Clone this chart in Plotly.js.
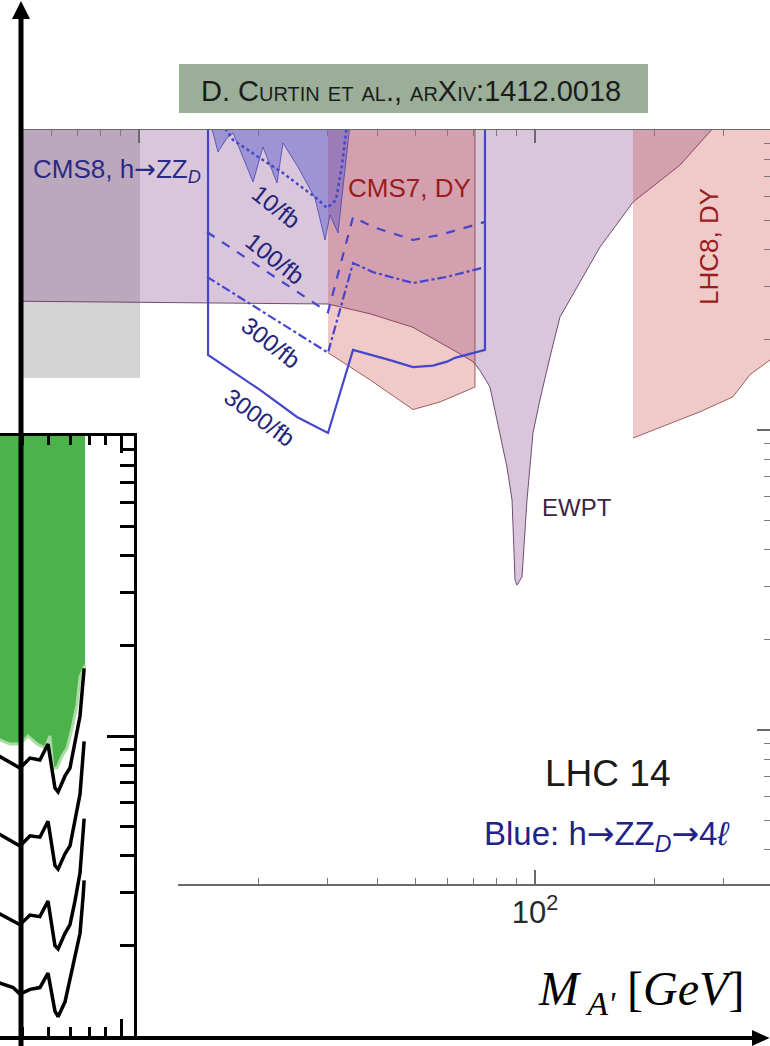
<!DOCTYPE html>
<html>
<head>
<meta charset="utf-8">
<script src="https://cdn.plot.ly/plotly-3.0.1.min.js"></script>
<style>html,body{margin:0;padding:0;background:#fff;}#chart{width:770px;height:1046px;}</style>
</head>
<body>
<div id="chart"></div>
<script>
// ---------- Main plot: dark photon mass M_A' [GeV] (log) vs kinetic mixing epsilon (log) ----------
const xTickMajor = [10, 100];
const xTickMinor = [5, 6, 7, 8, 9, 20, 30, 40, 50, 60, 70, 80, 90, 200, 300];
const bottomTickVals = [100];
const bottomTickText = ['10<sup>2</sup>'];
const yTickMajor = [0.1, 0.01, 0.001];
const yTickMinor = [0.02,0.03,0.04,0.05,0.06,0.07,0.08,0.09,0.002,0.003,0.004,0.005,0.006,0.007,0.008,0.009,0.0004,0.0005,0.0006,0.0007,0.0008,0.0009];

// grey band (left)
const grayM   = [4.5, 10.06, 10.06, 4.5];
const grayEps = [0.105, 0.105, 0.0149, 0.0149];

// EWPT exclusion (lavender)
const ewptM   = [4.5, 288.2, 232.4, 176.8, 145.9, 115.6, 109.1, 102.9, 98.84, 95.45, 92.73, 90.06, 89.04, 87.50, 84.95, 79.25, 76.96, 72.62, 69.72, 62.08, 49.19, 38.31, 30.01, 4.5];
const ewptEps = [0.105, 0.105, 0.0764, 0.0575, 0.0407, 0.0238, 0.0175, 0.0126, 0.00977, 0.00584, 0.00324, 0.00304, 0.00316, 0.00584, 0.00753, 0.0117, 0.0139, 0.0158, 0.0169, 0.0185, 0.0220, 0.0244, 0.0263, 0.0269];

// CMS7 Drell-Yan
const cms7M   = [30.01, 70.54, 70.54, 57.56, 49.19, 38.31, 30.01];
const cms7Eps = [0.105, 0.105, 0.0139, 0.0124, 0.0117, 0.0147, 0.0181];

// LHC8 Drell-Yan
const lhc8M   = [176.8, 420, 420, 392.1, 349.1, 316.2, 261.1, 176.8];
const lhc8Eps = [0.105, 0.105, 0.0171, 0.0171, 0.0153, 0.0129, 0.0115, 0.0094];

// CMS8 h -> Z Z_D
const cms8M   = [15.11, 15.38, 15.83, 16.68, 17.28, 19.41, 20.56, 22.31, 23.10, 25.20, 27.82, 29.49, 30.36, 31.81, 34.11];
const cms8Eps = [0.105, 0.0977, 0.0845, 0.0940, 0.0977, 0.0671, 0.0878, 0.0666, 0.0905, 0.0753, 0.0593, 0.0430, 0.0521, 0.0454, 0.105];

// LHC14 projections h -> Z Z_D -> 4l
const proj3000M   = [14.94, 14.94, 20.21, 25.06, 30.01, 34.71, 43.03, 49.19, 55.26, 59.95, 62.81, 74.76, 74.76];
const proj3000Eps = [0.105, 0.0178, 0.0136, 0.01105, 0.00977, 0.0185, 0.0171, 0.0162, 0.0164, 0.0169, 0.0174, 0.0185, 0.105];
const proj300M    = [14.85, 30.01, 34.71, 38.99, 49.19, 59.95, 74.76];
const proj300Eps  = [0.0324, 0.0181, 0.0360, 0.0336, 0.0309, 0.0324, 0.0349];
const proj100M    = [14.85, 30.01, 34.71, 38.99, 49.19, 57.56, 74.76];
const proj100Eps  = [0.0457, 0.0247, 0.0513, 0.0475, 0.0430, 0.0447, 0.0494];
const proj10M     = [16.20, 17.28, 20.21, 23.10, 25.50, 27.82, 29.84, 31.44, 32.56, 33.52];
const proj10Eps   = [0.105, 0.0926, 0.0806, 0.0719, 0.0651, 0.0598, 0.0550, 0.0584, 0.0764, 0.105];

// ---------- Inset (green exclusion + black projection curves) ----------
const insetXMajor = [10];
const insetXMinor = [5, 6, 7, 8, 9];
const insetYMajor = [1e-4, 1e-3, 1e-2];
const insetYMinor = [2e-4,3e-4,4e-4,5e-4,6e-4,7e-4,8e-4,9e-4,2e-3,3e-3,4e-3,5e-3,6e-3,7e-3,8e-3,9e-3];

const greenEdgeM = [4.0, 4.28, 4.59, 4.92, 5.21, 5.55, 5.87, 6.07, 6.20, 6.38, 6.61, 6.85, 7.09, 7.34, 7.50, 7.77];
const greenEdgeV = [9.70e-4, 9.70e-4, 9.40e-4, 9.40e-4, 1.0e-3, 9.40e-4, 9.12e-4, 1.0e-3, 7.82e-4, 7.82e-4, 8.58e-4, 9.12e-4, 1.063e-3, 1.269e-3, 1.573e-3, 1.725e-3];
const greenTopM = [7.77, 4.0];
const greenTopV = [0.011, 0.011];

const curveM  = [4.0, 4.69, 4.92, 5.28, 5.66, 5.99, 6.29, 6.43, 6.75, 6.99, 7.24, 7.50, 7.66, 7.72];
const curve1V = [8.9e-4, 8.06e-4, 7.82e-4, 8.44e-4, 8.32e-4, 9.40e-4, 6.71e-4, 6.51e-4, 7.36e-4, 7.82e-4, 9.40e-4, 1.166e-3, 1.525e-3, 1.68e-3];
const curve2V = [4.9e-4, 4.45e-4, 4.3e-4, 4.65e-4, 4.6e-4, 5.2e-4, 3.7e-4, 3.6e-4, 4.05e-4, 4.3e-4, 5.2e-4, 6.4e-4, 8.6e-4, 9.6e-4];
const curve3V = [2.65e-4, 2.42e-4, 2.35e-4, 2.53e-4, 2.5e-4, 2.82e-4, 2.0e-4, 1.95e-4, 2.2e-4, 2.35e-4, 2.82e-4, 3.5e-4, 4.7e-4, 5.3e-4];
const curve4V = [1.54e-4, 1.45e-4, 1.38e-4, 1.43e-4, 1.45e-4, 1.62e-4, 1.21e-4, 1.16e-4, 1.3e-4, 1.54e-4, 1.8e-4, 2.2e-4, 2.9e-4, 3.3e-4];

// ---------- helpers for page placement ----------
const W = 770, H = 1046;
const pxX = v => v / W;
const pxY = v => 1 - v / H;

const SANS = 'Liberation Sans, Arial, sans-serif';
const SERIF = 'Liberation Serif, Times New Roman, serif';
const ARROW = '<span style="font-family:DejaVu Sans">→</span>';

function region(x, y, fill, line, ax) {
  return {type: 'scatter', mode: 'lines', x: x, y: y, fill: 'toself', fillcolor: fill,
    line: {color: line, width: 1}, hoverinfo: 'skip', showlegend: false,
    xaxis: ax ? ax[0] : 'x', yaxis: ax ? ax[1] : 'y'};
}
function curve(x, y, color, width, dash, ax) {
  return {type: 'scatter', mode: 'lines', x: x, y: y, line: {color: color, width: width, dash: dash || 'solid'},
    hoverinfo: 'skip', showlegend: false, xaxis: ax ? ax[0] : 'x', yaxis: ax ? ax[1] : 'y'};
}

const BLUE = '#4646cc';
const data = [
  region(grayM, grayEps, '#d4d4d4', 'rgba(0,0,0,0)'),
  region(ewptM, ewptEps, 'rgba(128,65,135,0.30)', 'rgba(90,50,90,0.85)'),
  region(cms7M, cms7Eps, 'rgba(200,60,60,0.28)', 'rgba(140,60,60,0.8)'),
  region(lhc8M, lhc8Eps, 'rgba(200,60,60,0.28)', 'rgba(140,60,60,0.8)'),
  region(cms8M, cms8Eps, 'rgba(70,70,200,0.40)', 'rgba(70,70,180,0.8)'),
  curve(proj3000M, proj3000Eps, BLUE, 2.2, 'solid'),
  curve(proj300M, proj300Eps, BLUE, 2.2, 'dashdot'),
  curve(proj100M, proj100Eps, BLUE, 2.2, 'dash'),
  curve(proj10M, proj10Eps, BLUE, 2.5, 'dot'),
  {type: 'scatter', mode: 'lines', x: [], y: [], xaxis: 'x3', yaxis: 'y', hoverinfo: 'skip', showlegend: false},
  // inset
  region(greenEdgeM.concat(greenTopM), greenEdgeV.concat(greenTopV), '#4cb24c', 'rgba(0,0,0,0)', ['x2', 'y2']),
  curve(greenEdgeM, greenEdgeV, '#a9dba3', 3, 'solid', ['x2', 'y2']),
  curve(curveM, curve1V, '#000', 3.5, 'solid', ['x2', 'y2']),
  curve(curveM, curve2V, '#000', 3.5, 'solid', ['x2', 'y2']),
  curve(curveM, curve3V, '#000', 3.5, 'solid', ['x2', 'y2']),
  curve(curveM, curve4V, '#000', 3.5, 'solid', ['x2', 'y2'])
];

const mainDomX = [pxX(22), 1];
const mainDomY = [pxY(884), pxY(130)];
const logL = 2 + (22 - 535) / 396, logR = 2 + (770 - 535) / 396, logB = 2 + (178 - 535) / 396;
const insetL = 1 + (0 - 121) / 328, insetR = 1 + (134 - 121) / 328;

const layout = {
  width: W, height: H, autosize: false,
  margin: {l: 0, r: 0, t: 0, b: 0, pad: 0},
  paper_bgcolor: '#ffffff', plot_bgcolor: 'rgba(0,0,0,0)',
  showlegend: false,
  xaxis: {type: 'log', domain: mainDomX, range: [logL, logR], anchor: 'y', side: 'top',
    showgrid: false, zeroline: false, showline: true, linecolor: '#6a6a6a', linewidth: 1.5,
    ticks: 'inside', tickmode: 'array', tickvals: xTickMajor, ticklen: 13, tickwidth: 1.2, tickcolor: '#6a6a6a',
    showticklabels: false,
    minor: {tickmode: 'array', tickvals: xTickMinor, ticks: 'inside', ticklen: 6, tickwidth: 1, tickcolor: '#7a7a7a'}},
  xaxis3: {type: 'log', domain: [pxX(178), 1], range: [logB, logR], anchor: 'y', side: 'bottom',
    showgrid: false, zeroline: false, showline: true, linecolor: '#6a6a6a', linewidth: 1.5,
    ticks: 'inside', tickmode: 'array', tickvals: bottomTickVals, ticktext: bottomTickText,
    ticklen: 14, tickwidth: 1.2, tickcolor: '#6a6a6a',
    tickfont: {family: SANS, size: 31, color: '#2a2a2a'},
    minor: {tickmode: 'array', tickvals: xTickMinor, ticks: 'inside', ticklen: 6, tickwidth: 1, tickcolor: '#7a7a7a'}},
  yaxis: {type: 'log', domain: mainDomY, range: [-1 - 754 / 300, -1], anchor: 'x', side: 'right',
    showgrid: false, zeroline: false, showline: false,
    ticks: 'inside', tickmode: 'array', tickvals: yTickMajor, ticklen: 13, tickwidth: 1.2, tickcolor: '#6a6a6a',
    showticklabels: false,
    minor: {tickmode: 'array', tickvals: yTickMinor, ticks: 'inside', ticklen: 6, tickwidth: 1, tickcolor: '#7a7a7a'}},
  xaxis2: {type: 'log', domain: [0, pxX(134)], range: [insetL, insetR], anchor: 'y2',
    showgrid: false, zeroline: false, showline: true, linecolor: '#000', linewidth: 3, mirror: 'ticks',
    ticks: 'inside', tickmode: 'array', tickvals: insetXMajor, ticklen: 17, tickwidth: 3, tickcolor: '#000',
    showticklabels: false,
    minor: {tickmode: 'array', tickvals: insetXMinor, ticks: 'inside', ticklen: 9, tickwidth: 3, tickcolor: '#000'}},
  yaxis2: {type: 'log', domain: [pxY(1036), pxY(436)], range: [-4, -2], anchor: 'x2', side: 'right',
    showgrid: false, zeroline: false, showline: true, linecolor: '#000', linewidth: 3,
    ticks: 'inside', tickmode: 'array', tickvals: insetYMajor, ticklen: 27, tickwidth: 3, tickcolor: '#000',
    showticklabels: false,
    minor: {tickmode: 'array', tickvals: insetYMinor, ticks: 'inside', ticklen: 14, tickwidth: 3, tickcolor: '#000'}},
  shapes: [
    {type: 'rect', xref: 'paper', yref: 'paper', x0: pxX(179), x1: pxX(648), y0: pxY(113), y1: pxY(64),
      fillcolor: '#9aae98', line: {width: 0}, layer: 'below'},
    {type: 'line', xref: 'paper', yref: 'paper', x0: pxX(21), x1: pxX(21), y0: pxY(1046), y1: pxY(16),
      line: {color: '#000', width: 5}, layer: 'above'},
    {type: 'path', xref: 'paper', yref: 'paper', layer: 'above', fillcolor: '#000', line: {width: 0},
      path: 'M ' + pxX(21) + ' ' + pxY(1) + ' L ' + pxX(12) + ' ' + pxY(19) + ' L ' + pxX(30) + ' ' + pxY(19) + ' Z'},
    {type: 'line', xref: 'paper', yref: 'paper', x0: 0, x1: pxX(756), y0: pxY(1038), y1: pxY(1038),
      line: {color: '#000', width: 4}, layer: 'above'},
    {type: 'path', xref: 'paper', yref: 'paper', layer: 'above', fillcolor: '#000', line: {width: 0},
      path: 'M ' + pxX(769.5) + ' ' + pxY(1038) + ' L ' + pxX(752) + ' ' + pxY(1030) + ' L ' + pxX(752) + ' ' + pxY(1046) + ' Z'}
  ],
  annotations: []
};

function label(text, x, y, size, color, extra) {
  const a = Object.assign({text: text, xref: 'paper', yref: 'paper', x: pxX(x), y: pxY(y),
    xanchor: 'center', yanchor: 'middle', showarrow: false,
    font: {family: SANS, size: size, color: color}}, extra || {});
  layout.annotations.push(a);
}

label('D. Curtin et al., arXiv:1412.0018', 411, 91, 29, '#1c1c1c',
  {font: {family: SANS, size: 29, color: '#1c1c1c', variant: 'small-caps'}});
label('CMS8, h' + ARROW + 'ZZ<sub><i>D</i></sub>', 117, 170, 26, '#2a2a85');
label('CMS7, DY', 409, 188, 26, '#9a1c1c');
label('LHC8, DY', 709, 247, 26, '#9a1c1c', {textangle: -90});
label('10/fb', 276, 206, 24, '#23237a', {textangle: 38});
label('100/fb', 275, 258, 24, '#23237a', {textangle: 38});
label('300/fb', 271, 342, 24, '#23237a', {textangle: 38});
label('3000/fb', 260, 417, 24, '#23237a', {textangle: 36});
label('EWPT', 577, 507, 24, '#3b2441');
label('LHC 14', 607, 773, 37, '#1a1a1a');
label('Blue: h' + ARROW + 'ZZ<sub><i>D</i></sub>' + ARROW + '4<i>ℓ</i>', 606, 835, 33, '#22228a');
label('<i>M</i><sub> <i>A\'</i></sub> [<i>GeV</i>]', 641, 992, 48, '#000',
  {font: {family: SERIF, size: 48, color: '#000'}});

Plotly.newPlot('chart', data, layout, {displayModeBar: false, staticPlot: true});
</script>
</body>
</html>
